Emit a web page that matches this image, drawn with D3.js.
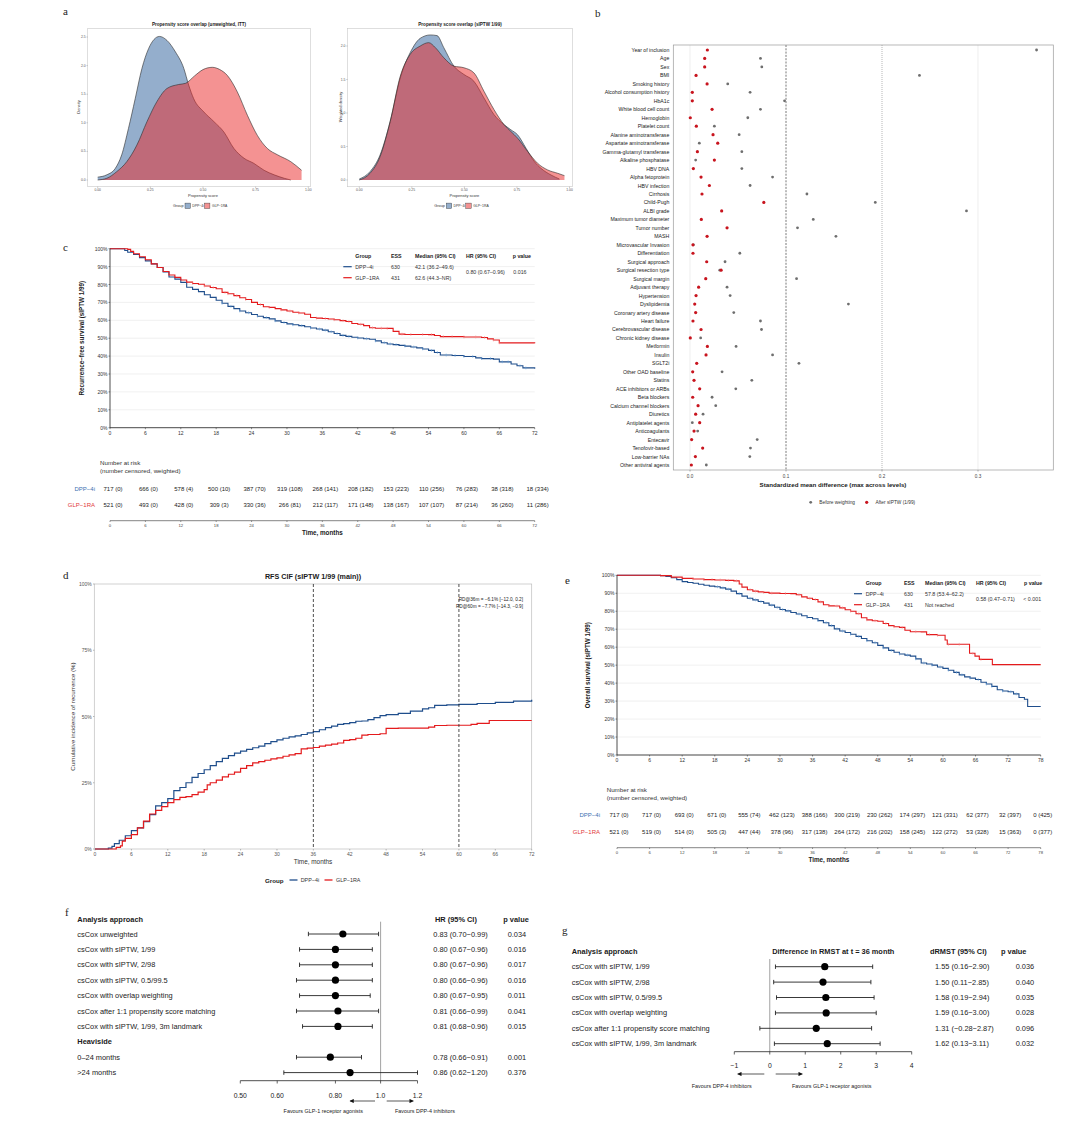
<!DOCTYPE html>
<html><head><meta charset="utf-8">
<script src="https://cdn.jsdelivr.net/npm/d3@7"></script>
<style>body{margin:0;background:#fff} svg{display:block}</style>
</head><body>
<svg id="fig" width="1080" height="1127"></svg>
<script>
// ================= DATA =================
const groupNames = ["DPP−4i", "GLP−1RA"];
// Panel a: propensity score densities [score, density]
const psUnwDpp = [[0,0.05],[0.043,0.09],[0.083,0.2],[0.114,0.44],[0.146,0.9],[0.178,1.42],[0.21,1.95],[0.242,2.3],[0.293,2.51],[0.329,2.44],[0.369,2.24],[0.409,1.95],[0.432,1.66],[0.456,1.42],[0.504,1.19],[0.552,1.02],[0.599,0.84],[0.647,0.55],[0.695,0.38],[0.742,0.29],[0.79,0.17],[0.838,0.09],[0.886,0.03],[0.917,0.0]];
const psUnwGlp = [[0,0],[0.043,0.03],[0.09,0.145],[0.138,0.32],[0.186,0.61],[0.234,1.02],[0.281,1.37],[0.329,1.6],[0.385,1.67],[0.417,1.69],[0.46,1.82],[0.5,1.93],[0.544,1.97],[0.58,1.93],[0.615,1.83],[0.663,1.54],[0.711,1.13],[0.758,0.78],[0.806,0.55],[0.854,0.44],[0.917,0.32],[0.968,0.17]];
const psWDpp = [[0,0.015],[0.051,0.125],[0.099,0.375],[0.147,0.875],[0.195,1.525],[0.242,1.9],[0.29,2.115],[0.338,2.165],[0.37,2.155],[0.402,1.975],[0.45,1.7],[0.498,1.575],[0.545,1.475],[0.593,1.225],[0.641,0.975],[0.689,0.825],[0.721,0.75],[0.753,0.675],[0.793,0.475],[0.833,0.275],[0.864,0.175],[0.912,0.075],[0.952,0.015]];
const psWGlp = [[0,0],[0.051,0.1],[0.099,0.35],[0.147,0.875],[0.195,1.55],[0.242,1.875],[0.29,2.0],[0.33,2.05],[0.362,1.975],[0.402,1.825],[0.45,1.7],[0.498,1.675],[0.545,1.6],[0.593,1.325],[0.641,1.05],[0.689,0.825],[0.721,0.725],[0.753,0.625],[0.801,0.425],[0.848,0.25],[0.896,0.15],[0.944,0.1],[0.976,0.065]];
const psTitles = ["Propensity score overlap (unweighted, ITT)", "Propensity score overlap (sIPTW 1/99)"];
const psXTicks = [0, 0.25, 0.5, 0.75, 1];
const psYTicksL = [0, 0.5, 1, 1.5, 2, 2.5];
const psYTicksR = [0, 0.5, 1, 1.5, 2];

// Panel b: standardized mean differences
const covariates = ["Year of inclusion","Age","Sex","BMI","Smoking history","Alcohol consumption history","HbA1c","White blood cell count","Hemoglobin","Platelet count","Alanine aminotransferase","Aspartate aminotransferase","Gamma-glutamyl transferase","Alkaline phosphatase","HBV DNA","Alpha fetoprotein","HBV infection","Cirrhosis","Child-Pugh","ALBI grade","Maximum tumor diameter","Tumor number","MASH","Microvascular Invasion","Differentiation","Surgical approach","Surgical resection type","Surgical margin","Adjuvant therapy","Hypertension","Dyslipidemia","Coronary artery disease","Heart failure","Cerebrovascular disease","Chronic kidney disease","Metformin","Insulin","SGLT2i","Other OAD baseline","Statins","ACE inhibitors or ARBs","Beta blockers","Calcium channel blockers","Diuretics","Antiplatelet agents","Anticoagulants","Entecavir","Tenofovir-based","Low-barrier NAs","Other antiviral agents"];
const smdBefore = [0.361,0.0734,0.0748,0.239,0.0393,0.0626,0.0985,0.0734,0.0602,0.0254,0.0512,0.0097,0.054,0.0059,0.054,0.086,0.0626,0.1218,0.193,0.288,0.1284,0.112,0.152,0.0035,0.0519,0.0365,0.031,0.111,0.0386,0.0418,0.165,0.0456,0.0734,0.0745,0.0111,0.048,0.086,0.1135,0.0334,0.0644,0.0477,0.023,0.0268,0.0136,0.0024,0.008,0.07,0.063,0.0623,0.017];
const smdAfter = [0.0181,0.0153,0.0153,0.0063,0.0178,0.0024,0.0024,0.023,0.0003,0.0066,0.024,0.0289,0.0077,0.0254,0.0035,0.0115,0.0202,0.0125,0.0769,0.033,0.0118,0.0386,0.0178,0.0031,0.0031,0.0174,0.0324,0.0164,0.009,0.0063,0.0049,0.0059,0.0031,0.0115,0.0003,0.0181,0.0167,0.007,0.0028,0.0042,0.0101,0.0028,0.0084,0.0059,0.0101,0.0042,0.0017,0.0132,0.0056,0.0014];
const smdTicks = [0, 0.1, 0.2, 0.3];

// Panel c: recurrence-free survival [month, %]
const rfsDpp = [[0,100],[2,100],[2.5,99],[3,98],[4,96.8],[5,95],[6,93.2],[7,91.5],[8,89.5],[9,87],[10,84.2],[11,83],[12,81.2],[13,78.5],[14,77.3],[15,76],[16,74.3],[17,72.8],[18,71.2],[19,69.5],[20,67.8],[21,66.5],[22,65.2],[23,64.2],[24,63.2],[25,62.3],[26,61.5],[27,60.8],[28,59.7],[29,58.8],[30,58],[31,57.5],[32,57],[33,56.4],[34,55.7],[35,55.1],[36,54.5],[37,53.6],[38,52.6],[39,51.6],[40,51],[41,50.5],[42,50.1],[43,49.7],[44,49.4],[45,48.5],[46,47.5],[47,46.8],[48,46.4],[49,46],[50,45.6],[51,45.1],[52,44.6],[53,44],[54,43.2],[55,42],[56,40.6],[58,40.3],[60,39.8],[62,39],[63,38.6],[65,38.3],[66,36.8],[68,35.6],[69,34.6],[70,33.4],[72,33]];
const rfsGlp = [[0,100],[3,99.6],[3.5,98.5],[4,97.2],[5,95.5],[6,93.8],[7,91.5],[8,89.5],[9,87.3],[10,85.3],[11,84],[12,82.5],[13,81.3],[14,80.6],[15,80.1],[16,79.2],[17,78.3],[18,77.6],[19,75.6],[20,74.8],[21,73.8],[22,72.6],[23,71.6],[24,70],[25,68.8],[26,67.6],[27,67.2],[28,66.5],[29,65.8],[30,65.2],[31,64.5],[32,64.1],[33,63.4],[34,61.6],[35,61.2],[36,61],[37,60.7],[38,60.3],[39,59.8],[40,59.3],[41,58.2],[42,57.8],[43,57],[44,55.8],[45,55.6],[47,55.5],[48,53.8],[49,52.3],[50,52.1],[54,52],[55,51.5],[56,50.9],[60,50.7],[63,50.4],[64,49.6],[65,49],[66,47.4],[72,47.2]];
const rfsCensDpp = [19,20.5,22,23.5,25,26.5,28,29.5,31,32.5,34,35.5,36.5,37.5,38.5,39.5,40.5,42,43.5,45,46.5,47.5,48.5,50,51.5,53,54.5,55.5,57,58.5,60,61.5,63,64.5,66.5,67.5,69.5,70.5];
const rfsCensGlp = [14,16,17.5,19.5,20,21.5,23,25.5,27,29,30.5,32,35,36.5,38,39.5,40.5,42.5,44.5,46,47,49.5,51,53,54.5,56.5,58,60,62,63.5,65,66];
const rfsTable = { ess:["630","431"], median:["42.1 (36.2–49.6)","62.6 (44.3–NR)"], hr:"0.80 (0.67–0.96)", p:"0.016" };
const rfsRiskTimes = [0,6,12,18,24,30,36,42,48,54,60,66,72];
const rfsRiskDpp = ["717 (0)","666 (0)","578 (4)","500 (10)","387 (70)","319 (108)","268 (141)","208 (182)","153 (223)","110 (256)","76 (283)","38 (318)","18 (334)"];
const rfsRiskGlp = ["521 (0)","493 (0)","428 (0)","309 (3)","330 (36)","266 (81)","212 (117)","171 (148)","138 (167)","107 (107)","87 (214)","36 (260)","11 (286)"];

// Panel d: cumulative incidence [month, %]
const cifDpp = [[0,0],[2.2,0.3],[2.8,1],[3.2,2],[4,3.3],[5,5],[6,6.9],[7,8],[8,10.3],[9,13],[10,16.3],[11,17.5],[12,19],[13,22],[14,23.2],[15,25],[16,27],[17,28.5],[18,29.9],[19,31.5],[20,33],[21,34.2],[22,35.2],[23,36.2],[24,36.9],[25,37.6],[26,38.2],[27,38.8],[28,39.8],[29,40.5],[30,41.2],[31,41.8],[32,42.3],[33,42.7],[34,43.2],[35,43.8],[36,44.3],[37,45],[38,45.8],[39,46.4],[40,47],[41,47.3],[42,47.7],[43,48.2],[44,48.3],[45,48.8],[46,49.6],[47,50.3],[48,50.7],[50,51.2],[52,52],[54,52.9],[55,53.3],[56,54.2],[58,54.4],[60,54.6],[63,54.9],[66,55.3],[69,55.8],[72,56.3]];
const cifGlp = [[0,0],[3,0],[3.5,0.6],[4.2,1.2],[4.5,3],[5,4],[6,5.4],[7,8],[8,10.5],[9,13.2],[10,14.6],[11,16],[12,17.5],[13,18.6],[14,19.5],[15,19.8],[16,20.5],[17,21.5],[18,22.4],[18.5,24.2],[19,25],[20,26],[21,27.2],[22,28.2],[23,29],[24,30.4],[25,31.5],[26,32.5],[27,33],[28,33.5],[29,34],[30,34.4],[31,35],[32,35.5],[33,36],[34,37.8],[35,38.1],[36,38.3],[37,38.8],[38,39.2],[39,39.6],[40,40],[41,41],[42,41.3],[43,41.8],[44,43],[45,43.2],[47,43.5],[48,45.5],[50,45.6],[54,45.6],[55,46],[56,46.6],[58,46.7],[60,46.7],[62,47],[63,47.4],[65,48.5],[72,48.5]];
const cifMarks = [36, 60];
const cifNotes = ["RD@36m = −6.1% [−12.0, 0.2]", "RD@60m = −7.7% [−14.3, −0.9]"];

// Panel e: overall survival [month, %]
const osDpp = [[0,100],[6,100],[8,99.8],[9,99.4],[10,98.6],[11,97.6],[12,96.5],[13,96],[14,95.6],[15,95],[16,94.5],[17,94],[18,93.6],[19,93],[20,92.3],[21,91.2],[22,89.8],[23,88.4],[24,87.2],[25,86.3],[26,85.4],[27,84.5],[28,83.4],[29,82.2],[30,81],[31,80.2],[32,79.3],[33,78.5],[34,77.5],[35,76.5],[36,75.8],[37,74.8],[38,73.6],[39,72],[40,70.2],[41,69],[42,68.2],[43,67.2],[44,66],[45,64.8],[46,63.6],[47,62.5],[48,61],[49,59.6],[50,58.2],[51,57.2],[52,56.2],[53,55.6],[54,55],[55,53.5],[56,51.2],[57,50.6],[58,50],[59,49],[60,48.2],[61,47.2],[62,46],[63,44.6],[64,43.5],[65,42.8],[66,42],[67,40.5],[68,39.5],[69,38.2],[70,36.3],[71,35.6],[72,35.2],[73,34],[74,32],[75,31],[75.6,27],[78,27]];
const osGlp = [[0,100],[8,99.8],[10,99],[12,98.3],[14,97.9],[16,97.6],[18,97.4],[20,97.2],[21.5,96.9],[22.5,95.2],[23,93.4],[24,92],[25,91.2],[26,90.8],[27,90.5],[28,90.1],[30,89.9],[32,89.8],[33,89.2],[34,88],[35,87.2],[36,86.5],[37,85.2],[38,83.6],[39,83],[40,82.9],[41,81.9],[42,80.8],[43,80],[44,78.6],[45,76.4],[46,75.2],[47,74.7],[48,74.4],[49,73.2],[50,72],[51,71.4],[52,71],[53,69.4],[54,68.6],[56,68.5],[57,67],[59,66.6],[60.4,64],[60.8,61.6],[64.9,56.6],[65.9,55],[66.7,53.2],[69.1,50.3],[78,50.3]];
const osCensDpp = [18.5,19.5,20.5,22.5,24.5,25.5,26.5,28.5,29.5,30.5,31.5,33.5,35,37,38.5,39.5,40.5,41.5,43,44.5,46,47.5,49,50.5,52,53.5,55,56.5,58,59.5,61,62.5,63.5,65,66.5,68,69,71,72.5,73.5];
const osCensGlp = [14,16,17.5,19,20.5,22,24.5,25.5,27,28.5,31,33.5,35.5,36.5,37.5,39,40.5,41.5,43,44.5,46,47.5,49.5,51,52.5,55,57.5,59,61,63,65.5,67];
const osTable = { ess:["630","431"], median:["57.8 (53.4–62.2)","Not reached"], hr:"0.58 (0.47–0.71)", p:"< 0.001" };
const osRiskTimes = [0,6,12,18,24,30,36,42,48,54,60,66,72,78];
const osRiskDpp = ["717 (0)","717 (0)","693 (0)","671 (0)","555 (74)","462 (123)","388 (166)","300 (219)","230 (262)","174 (297)","121 (331)","62 (377)","32 (397)","0 (425)"];
const osRiskGlp = ["521 (0)","519 (0)","514 (0)","505 (3)","447 (44)","378 (96)","317 (138)","264 (172)","216 (202)","158 (245)","122 (272)","53 (328)","15 (363)","0 (377)"];

// Panel f: hazard ratio forest
const fLabels = ["csCox unweighted","csCox with sIPTW, 1/99","csCox with sIPTW, 2/98","csCox with sIPTW, 0.5/99.5","csCox with overlap weighting","csCox after 1:1 propensity score matching","csCox with sIPTW, 1/99, 3m landmark","Heaviside","0–24 months",">24 months"];
const fHR = [0.83,0.80,0.80,0.80,0.80,0.81,0.81,null,0.78,0.86];
const fLo = [0.70,0.67,0.67,0.66,0.67,0.66,0.68,null,0.66,0.62];
const fHi = [0.99,0.96,0.96,0.96,0.95,0.99,0.96,null,0.91,1.20];
const fP = ["0.034","0.016","0.017","0.016","0.011","0.041","0.015","","0.001","0.376"];
const fTicks = [0.5, 0.6, 0.8, 1.0, 1.2];
const fTickLabels = ["0.50","0.60","0.80","1.0","1.2"];

// Panel g: RMST difference forest
const gLabels = ["csCox with sIPTW, 1/99","csCox with sIPTW, 2/98","csCox with sIPTW, 0.5/99.5","csCox with overlap weighting","csCox after 1:1 propensity score matching","csCox with sIPTW, 1/99, 3m landmark"];
const gEst = [1.55,1.50,1.58,1.59,1.31,1.62];
const gLo = [0.16,0.11,0.19,0.16,-0.28,0.13];
const gHi = [2.90,2.85,2.94,3.00,2.87,3.11];
const gP = ["0.036","0.040","0.035","0.028","0.096","0.032"];
const gTicks = [-1,0,1,2,3,4];

// ================= DRAWING =================
const FF = '"Liberation Sans", Arial, Helvetica, sans-serif';
const SERIF = '"Liberation Serif", "DejaVu Serif", serif';
const svg = d3.select("#fig");
const BLUE = "#1f4e8c", RED = "#e41a1c", BLUE_T = "#3d6fb0", RED_T = "#e23a3a";
const defs = svg.append("defs");
defs.append("marker").attr("id","arr").attr("viewBox","0 0 10 10").attr("refX",9).attr("refY",5)
  .attr("markerUnits","userSpaceOnUse").attr("markerWidth",6).attr("markerHeight",4.2).attr("orient","auto")
  .append("path").attr("d","M0,0L10,5L0,10z").attr("fill","#111");

function T(x, y, s, o = {}) {
  const t = svg.append("text").attr("x", x).attr("y", y)
    .attr("font-family", o.ff || FF).attr("font-size", o.fs || 6)
    .attr("text-anchor", o.a || "start").attr("dominant-baseline", "central")
    .attr("fill", o.c || "#1a1a1a").text(s);
  if (o.b) t.attr("font-weight", "bold");
  if (o.rot) t.attr("transform", `rotate(-90,${x},${y})`);
  return t;
}
function L(x1, y1, x2, y2, c = "#000", w = 0.8, dash = null) {
  const l = svg.append("line").attr("x1", x1).attr("y1", y1).attr("x2", x2).attr("y2", y2)
    .attr("stroke", c).attr("stroke-width", w);
  if (dash) l.attr("stroke-dasharray", dash);
  return l;
}
function arrow(x1, y, x2) {
  svg.append("line").attr("x1",x1).attr("y1",y).attr("x2",x2).attr("y2",y)
    .attr("stroke","#111").attr("stroke-width",0.7).attr("marker-end","url(#arr)");
}
function stepVal(arr, t) { let v = arr[0][1]; for (const p of arr) { if (p[0] <= t) v = p[1]; else break; } return v; }

// Panel letters
[["a",63,11],["b",595,13],["c",63,247],["d",63,575],["e",565,580],["f",65,912],["g",562,930]]
  .forEach(([s,x,y]) => T(x, y, s, {fs: 11, ff: SERIF, c: "#222"}));

// ---------- Panel a ----------
function densityPanel(c) {
  const x = d3.scaleLinear().domain([0,1]).range(c.xr);
  const y = d3.scaleLinear().domain([0,c.ymax]).range(c.yr);
  svg.append("rect").attr("x",c.box[0]).attr("y",c.box[2]).attr("width",c.box[1]-c.box[0]).attr("height",c.box[3]-c.box[2])
    .attr("fill","none").attr("stroke","#c8c8c8").attr("stroke-width",0.6);
  const area = d3.area().curve(d3.curveMonotoneX).x(d=>x(d[0])).y0(y(0)).y1(d=>y(d[1]));
  const line = d3.line().curve(d3.curveMonotoneX).x(d=>x(d[0])).y(d=>y(d[1]));
  [[c.blue,"#2a5d9a"],[c.red,"#ea2626"]].forEach(([data,col]) => {
    svg.append("path").attr("d", area(data)).attr("fill", col).attr("fill-opacity", 0.5);
    svg.append("path").attr("d", line(data)).attr("fill","none").attr("stroke","#2b2b2b").attr("stroke-width",0.6);
  });
  psXTicks.forEach(t => { L(x(t), c.box[3], x(t), c.box[3]+1.2, "#777", 0.4); T(x(t), c.box[3]+3.6, d3.format(".2f")(t), {fs:3.4, a:"middle", c:"#555"}); });
  c.yticks.forEach(t => { L(c.box[0]-1.2, y(t), c.box[0], y(t), "#777", 0.4); T(c.box[0]-2, y(t), d3.format(".1f")(t), {fs:3.4, a:"end", c:"#555"}); });
  T((c.box[0]+c.box[1])/2, 24.3, c.title, {fs:4.6, a:"middle", b:true});
  T((c.xr[0]+c.xr[1])/2, 195.2, "Propensity score", {fs:4, a:"middle", c:"#333"});
  T(c.ytx, 107, c.ytitle, {fs:4, a:"middle", rot:true, c:"#333"});
  const lx = c.legX, ly = 205.8;
  T(lx, ly, "Group", {fs:3.8, c:"#333"});
  svg.append("rect").attr("x",lx+12).attr("y",ly-2.7).attr("width",5.4).attr("height",5.4).attr("fill","#2a5d9a").attr("fill-opacity",0.5).attr("stroke","#333").attr("stroke-width",0.4);
  T(lx+19.2, ly, groupNames[0], {fs:3.4, c:"#333"});
  svg.append("rect").attr("x",lx+31.5).attr("y",ly-2.7).attr("width",5.4).attr("height",5.4).attr("fill","#ea2626").attr("fill-opacity",0.5).attr("stroke","#333").attr("stroke-width",0.4);
  T(lx+39, ly, groupNames[1], {fs:3.4, c:"#333"});
}
densityPanel({box:[87.7,310.3,28.3,186.7], xr:[97.7,308.3], yr:[180,37], ymax:2.5, yticks:psYTicksL, title:psTitles[0], ytitle:"Density", ytx:78, blue:psUnwDpp, red:psUnwGlp, legX:173});
densityPanel({box:[347.5,572.5,28.3,186.7], xr:[359.3,569.5], yr:[180,46], ymax:2, yticks:psYTicksR, title:psTitles[1], ytitle:"Weighted density", ytx:340, blue:psWDpp, red:psWGlp, legX:434.3});

// ---------- Panel b ----------
(function(){
  const x = d3.scaleLinear().domain([0,0.1]).range([690,786]);
  const y = d3.scalePoint().domain(covariates).range([50,465]);
  const bx0 = 673.3, bx1 = 1053.3, by0 = 45, by1 = 470;
  [0, 0.3].forEach(t => L(x(t), by0, x(t), by1, "#e2e2e2", 0.6));
  L(x(0.1), by0, x(0.1), by1, "#555", 0.8, "2,1.3");
  L(x(0.2), by0, x(0.2), by1, "#999", 0.7, "1,1");
  svg.append("rect").attr("x",bx0).attr("y",by0).attr("width",bx1-bx0).attr("height",by1-by0).attr("fill","none").attr("stroke","#9a9a9a").attr("stroke-width",0.7);
  covariates.forEach((c,i) => {
    T(669.3, y(c), c, {fs:5.2, a:"end", c:"#222"});
    svg.append("circle").attr("cx", x(smdBefore[i])).attr("cy", y(c)).attr("r", 1.4).attr("fill", "#6e6e6e");
  });
  covariates.forEach((c,i) => svg.append("circle").attr("cx", x(smdAfter[i])).attr("cy", y(c)).attr("r", 1.6).attr("fill", "#c8141e"));
  smdTicks.forEach(t => { L(x(t), by1, x(t), by1+1.5, "#666", 0.5); T(x(t), 476, d3.format(".1f")(t), {fs:4.6, a:"middle", c:"#444"}); });
  T(833, 484.3, "Standardized mean difference (max across levels)", {fs:6.2, a:"middle", b:true});
  svg.append("circle").attr("cx",810.7).attr("cy",502.3).attr("r",1.4).attr("fill","#6e6e6e");
  T(819.3, 502.3, "Before weighting", {fs:4.8, c:"#333"});
  svg.append("circle").attr("cx",866.7).attr("cy",502.3).attr("r",1.6).attr("fill","#c8141e");
  T(875.5, 502.3, "After sIPTW (1/99)", {fs:4.8, c:"#333"});
})();

// ---------- KM panels (c, e) ----------
function kmPanel(c) {
  const x = d3.scaleLinear().domain([0, c.tmax]).range(c.xr);
  const y = d3.scaleLinear().domain([0, 100]).range(c.yr);
  d3.range(0, 101, 10).forEach(v => L(c.xr[0], y(v), c.xr[1], y(v), "#e6e6e6", 0.6));
  const line = d3.line().curve(d3.curveStepAfter).x(d=>x(d[0])).y(d=>y(d[1]));
  [[c.dpp, c.censDpp, BLUE, "#6aa3dc"], [c.glp, c.censGlp, RED, "#f58b8b"]].forEach(([data, cens, col, ccol]) => {
    svg.append("path").attr("d", line(data)).attr("fill","none").attr("stroke", col).attr("stroke-width", 1.1);
    cens.forEach(t => { const v = stepVal(data, t); L(x(t), y(v)-1.4, x(t), y(v)+1.4, ccol, 0.6); });
  });
  L(c.xr[0], c.yr[0], c.xr[0], c.yr[1], "#222", 0.8);
  L(c.xr[0], c.yr[0], c.xr[1], c.yr[0], "#222", 0.8);
  d3.range(0, 101, 10).forEach(v => { L(c.xr[0]-1.5, y(v), c.xr[0], y(v), "#222", 0.5); T(c.xr[0]-2.5, y(v), v + "%", {fs:5, a:"end", c:"#333"}); });
  d3.range(0, c.tmax+1, 6).forEach(t => { L(x(t), c.yr[0], x(t), c.yr[0]+1.5, "#222", 0.5); T(x(t), c.yr[0]+5.2, t, {fs:5, a:"middle", c:"#333"}); });
  T(c.ytx, (c.yr[0]+c.yr[1])/2, c.ytitle, {fs:6.3, a:"middle", b:true, rot:true});
  // summary table
  const tb = c.tbl;
  T(tb.group, tb.y0, "Group", {fs:5.3, b:true}); T(tb.ess, tb.y0, "ESS", {fs:5.3, b:true});
  T(tb.med, tb.y0, "Median (95% CI)", {fs:5.3, b:true}); T(tb.hr, tb.y0, "HR (95% CI)", {fs:5.3, b:true});
  T(tb.p, tb.y0, "p value", {fs:5.3, b:true});
  [BLUE, RED].forEach((col, i) => {
    const yy = tb.y0 + (i+1)*11;
    L(tb.line0, yy, tb.line1, yy, col, 1.2);
    T(tb.group, yy, groupNames[i], {fs:5.3, c:"#333"});
    T(tb.ess, yy, c.table.ess[i], {fs:5.3, c:"#333"});
    T(tb.med, yy, c.table.median[i], {fs:5.3, c:"#333"});
  });
  T(tb.hr, tb.y0 + 16.5, c.table.hr, {fs:5.3, c:"#333"});
  T(tb.pv, tb.y0 + 16.5, c.table.p, {fs:5.3, c:"#333"});
  // risk table
  const r = c.risk;
  T(r.x, r.y0, "Number at risk", {fs:6.2, c:"#333"});
  T(r.x, r.y0+8.6, "(number censored, weighted)", {fs:6.2, c:"#333"});
  [[c.riskDpp, BLUE_T, r.r1, groupNames[0]], [c.riskGlp, RED_T, r.r2, groupNames[1]]].forEach(([vals, col, yy, name]) => {
    T(r.lx, yy, name, {fs:6, a:"end", c:col});
    c.riskTimes.forEach((t,i) => T(x(t)+r.off, yy, vals[i], {fs:6, a:"middle", c:"#222"}));
  });
  L(c.xr[0], r.ax, c.xr[1], r.ax, "#333", 0.6);
  d3.range(0, c.tmax+1, 6).forEach(t => { L(x(t), r.ax, x(t), r.ax+1.3, "#333", 0.5); T(x(t), r.ax+4.8, t, {fs:4.2, a:"middle", c:"#444"}); });
  T((c.xr[0]+c.xr[1])/2, r.ax+11.8, "Time, months", {fs:6.3, a:"middle", b:true});
}
kmPanel({tmax:72, xr:[110,534.7], yr:[427.7,248.7], dpp:rfsDpp, glp:rfsGlp, censDpp:rfsCensDpp, censGlp:rfsCensGlp,
  ytx:82, ytitle:"Recurrence−free survival (sIPTW 1/99)", table:rfsTable,
  tbl:{y0:255.7, line0:343.3, line1:351.7, group:355.3, ess:391, med:415, hr:466, p:512.7, pv:513.3},
  risk:{x:100, y0:462, r1:488.7, r2:504.7, lx:95, off:3, ax:520.7},
  riskTimes:rfsRiskTimes, riskDpp:rfsRiskDpp, riskGlp:rfsRiskGlp});
kmPanel({tmax:78, xr:[617,1040.7], yr:[755,575.3], dpp:osDpp, glp:osGlp, censDpp:osCensDpp, censGlp:osCensGlp,
  ytx:588, ytitle:"Overall survival (sIPTW 1/99)", table:osTable,
  tbl:{y0:582.7, line0:854, line1:862, group:865.7, ess:904, med:925, hr:976, p:1024, pv:1023.3},
  risk:{x:606.7, y0:789.3, r1:815, r2:831.7, lx:600, off:2, ax:847.7},
  riskTimes:osRiskTimes, riskDpp:osRiskDpp, riskGlp:osRiskGlp});

// ---------- Panel d ----------
(function(){
  const x = d3.scaleLinear().domain([0,72]).range([95,531.7]);
  const y = d3.scaleLinear().domain([0,100]).range([849,584]);
  svg.append("rect").attr("x",94.3).attr("y",584).attr("width",531.7-94.3).attr("height",849-584).attr("fill","none").attr("stroke","#bdbdbd").attr("stroke-width",0.7);
  const line = d3.line().curve(d3.curveStepAfter).x(d=>x(d[0])).y(d=>y(d[1]));
  svg.append("path").attr("d", line(cifDpp)).attr("fill","none").attr("stroke",BLUE).attr("stroke-width",1.2);
  svg.append("path").attr("d", line(cifGlp)).attr("fill","none").attr("stroke",RED).attr("stroke-width",1.2);
  cifMarks.forEach(t => L(x(t), 584, x(t), 849, "#222", 0.8, "3,2"));
  [0,25,50,75,100].forEach(v => { L(93, y(v), 94.3, y(v), "#777", 0.5); T(91.7, y(v), v + "%", {fs:5, a:"end", c:"#555"}); });
  d3.range(0,73,6).forEach(t => { L(x(t), 849, x(t), 850.5, "#777", 0.5); T(x(t), 853.6, t, {fs:5, a:"middle", c:"#555"}); });
  T(313, 576.7, "RFS CIF (sIPTW 1/99 (main))", {fs:7.2, a:"middle", b:true});
  cifNotes.forEach((s,i) => T(523, 599 + i*7.6, s, {fs:4.7, a:"end", c:"#222"}));
  T(313, 861.8, "Time, months", {fs:6.4, a:"middle", c:"#333"});
  T(72.7, 716.5, "Cumulative incidence of recurrence (%)", {fs:6.2, a:"middle", rot:true, c:"#333"});
  T(265, 880, "Group", {fs:6.2, b:true});
  L(289.5, 880, 297.5, 880, BLUE, 1.3); T(300.7, 880, groupNames[0], {fs:5.4, c:"#333"});
  L(324.5, 880, 332.5, 880, RED, 1.3); T(336, 880, groupNames[1], {fs:5.4, c:"#333"});
})();

// ---------- Panel f ----------
(function(){
  const x = d3.scaleLog().domain([0.5,1.2]).range([240.3,417.5]);
  const y = d3.scaleLinear().domain([0,9]).range([934,1072.6]);
  const FS = 7.4;
  T(77.3, 919, "Analysis approach", {fs:FS, b:true});
  T(435, 919, "HR (95% CI)", {fs:FS, b:true});
  T(503.3, 919, "p value", {fs:FS, b:true});
  L(x(1), 921.7, x(1), 1080.7, "#8a8a8a", 0.8);
  fLabels.forEach((lab,i) => {
    const yy = y(i);
    if (fHR[i] === null) { T(77.3, yy, lab, {fs:FS, b:true}); return; }
    T(77.3, yy, lab, {fs:FS, c:"#222"});
    L(x(fLo[i]), yy, x(fHi[i]), yy, "#222", 0.9);
    L(x(fLo[i]), yy-2.2, x(fLo[i]), yy+2.2, "#222", 0.9);
    L(x(fHi[i]), yy-2.2, x(fHi[i]), yy+2.2, "#222", 0.9);
    svg.append("circle").attr("cx", x(fHR[i])).attr("cy", yy).attr("r", 3.6).attr("fill", "#000");
    T(433.3, yy, `${d3.format(".2f")(fHR[i])} (${d3.format(".2f")(fLo[i])}−${d3.format(".2f")(fHi[i])})`, {fs:FS, c:"#222"});
    T(507.7, yy, fP[i], {fs:FS, c:"#222"});
  });
  L(x(0.5), 1080.7, x(1.2), 1080.7, "#222", 0.8);
  fTicks.forEach((t,i) => { L(x(t), 1080.7, x(t), 1083.5, "#222", 0.7); T(x(t), 1095, fTickLabels[i], {fs:6.8, a:"middle", c:"#222"}); });
  arrow(375, 1101, 350);
  arrow(386.7, 1101, 413.3);
  T(323.3, 1110.7, "Favours GLP-1 receptor agonists", {fs:5.4, a:"middle", c:"#222"});
  T(425, 1110.7, "Favours DPP-4 inhibitors", {fs:5.4, a:"middle", c:"#222"});
})();

// ---------- Panel g ----------
(function(){
  const x = d3.scaleLinear().domain([-1,4]).range([734.3,911.7]);
  const y = d3.scaleLinear().domain([0,5]).range([966.7,1043.7]);
  const FS = 7.4;
  T(571.7, 951.7, "Analysis approach", {fs:FS, b:true});
  T(833.3, 951.7, "Difference in RMST at t = 36 month", {fs:FS, a:"middle", b:true});
  T(930, 951.7, "dRMST (95% CI)", {fs:FS, b:true});
  T(1001, 951.7, "p value", {fs:FS, b:true});
  L(x(0), 959, x(0), 1051.7, "#8a8a8a", 0.8);
  const f2 = d3.format(".2f");
  gLabels.forEach((lab,i) => {
    const yy = y(i);
    T(571.7, yy, lab, {fs:FS, c:"#222"});
    L(x(gLo[i]), yy, x(gHi[i]), yy, "#222", 0.9);
    L(x(gLo[i]), yy-2.2, x(gLo[i]), yy+2.2, "#222", 0.9);
    L(x(gHi[i]), yy-2.2, x(gHi[i]), yy+2.2, "#222", 0.9);
    svg.append("circle").attr("cx", x(gEst[i])).attr("cy", yy).attr("r", 3.6).attr("fill", "#000");
    T(935, yy, `${f2(gEst[i])} (${f2(gLo[i]).replace("-","−")}−${f2(gHi[i])})`, {fs:FS, c:"#222"});
    T(1015.7, yy, gP[i], {fs:FS, c:"#222"});
  });
  L(x(-1), 1051.7, x(4), 1051.7, "#222", 0.8);
  gTicks.forEach(t => { L(x(t), 1051.7, x(t), 1054.5, "#222", 0.7); T(x(t), 1065.3, t < 0 ? "−" + Math.abs(t) : t, {fs:6.8, a:"middle", c:"#222"}); });
  arrow(764.3, 1074, 737.7);
  arrow(775.7, 1074, 802.3);
  T(721.7, 1085.7, "Favours DPP-4 inhibitors", {fs:5.4, a:"middle", c:"#222"});
  T(831.7, 1085.7, "Favours GLP-1 receptor agonists", {fs:5.4, a:"middle", c:"#222"});
})();
</script>
</body></html>
